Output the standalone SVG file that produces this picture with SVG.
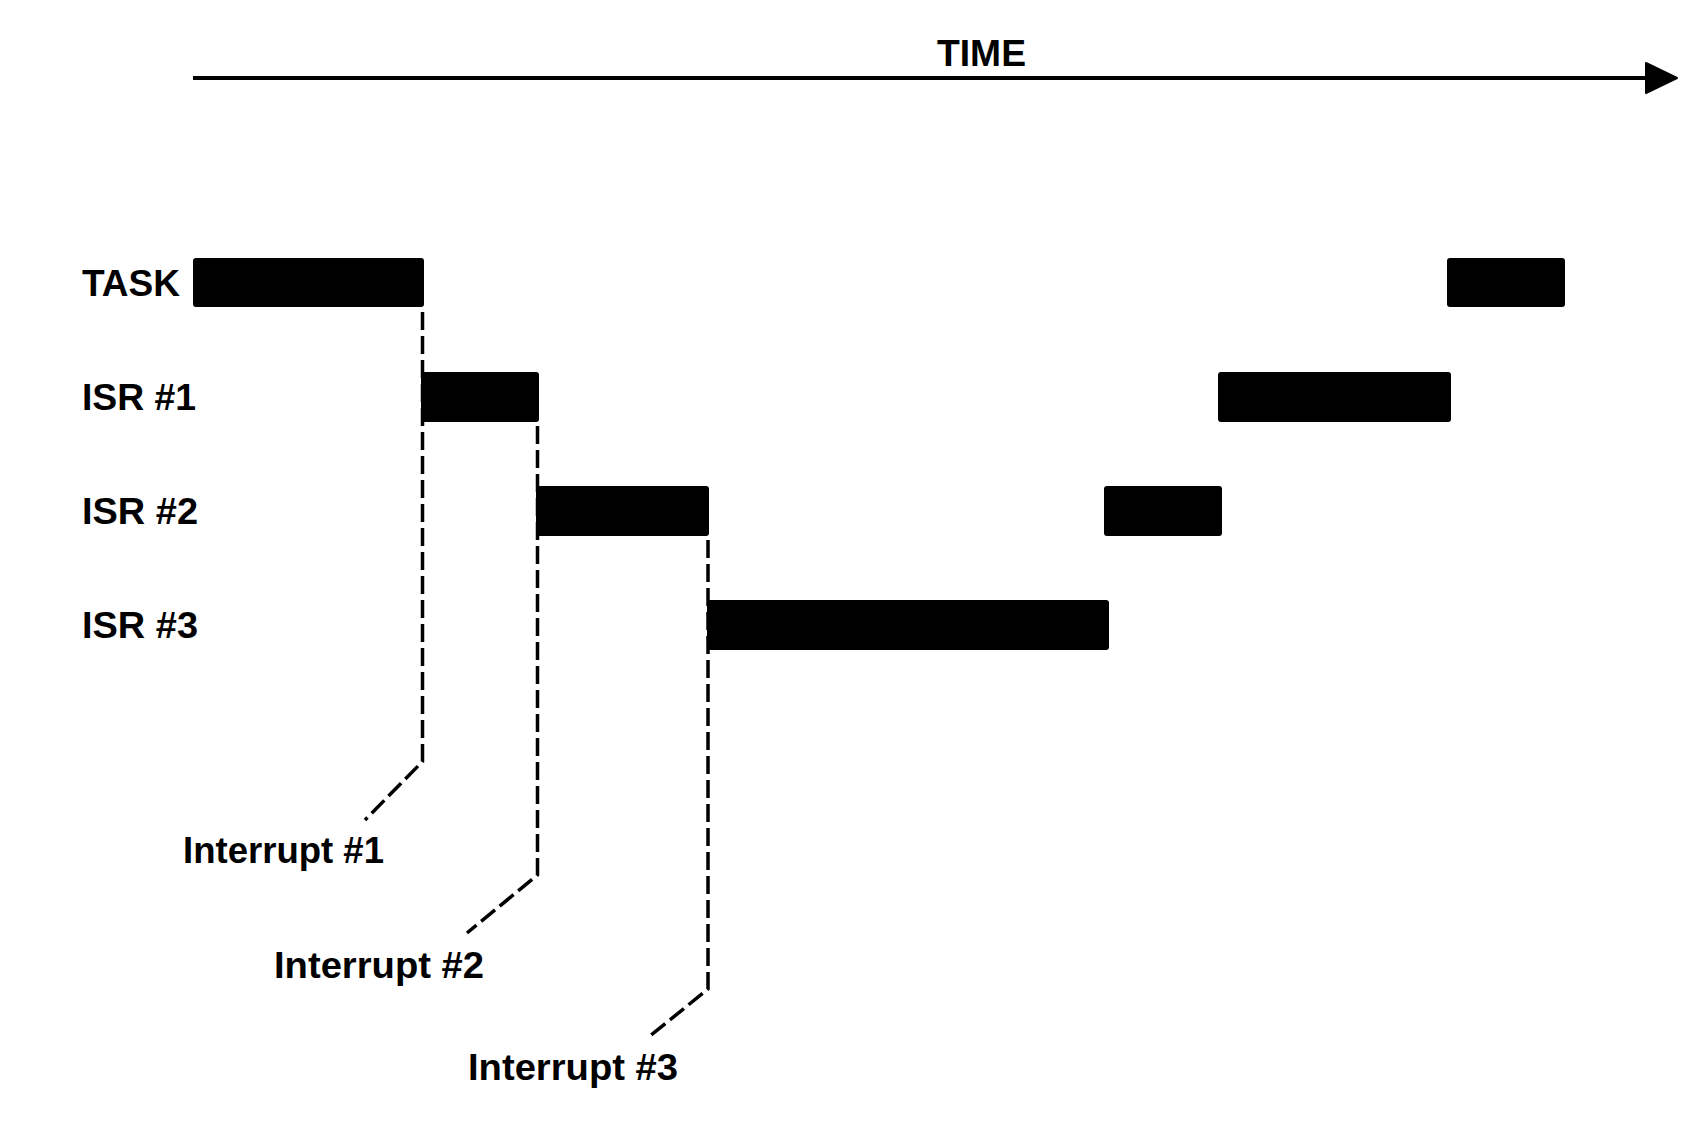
<svg xmlns="http://www.w3.org/2000/svg" width="1706" height="1122" viewBox="0 0 1706 1122">
<style>
text{font-family:"Liberation Sans",Arial,Helvetica,sans-serif;font-weight:bold;font-size:36px;fill:#000}
.bar{fill:#000}
.dash{fill:none;stroke:#000;stroke-width:3.5;stroke-dasharray:18 6}
.axis{fill:none;stroke:#000;stroke-width:4}
</style>
<rect width="1706" height="1122" fill="#fff"/>
<g id="time-axis">
<line class="axis" x1="193" y1="78" x2="1650" y2="78"/>
<polygon points="1646,63 1677,78 1646,93" fill="#000" stroke="#000" stroke-width="2" stroke-linejoin="round"/>
<text x="937" y="66" textLength="89" lengthAdjust="spacingAndGlyphs">TIME</text>
</g>
<g id="connectors">
<path class="dash" d="M422.5 312 V761.5 L365 820"/>
<path class="dash" d="M537.5 426 V875 L467 933"/>
<path class="dash" d="M708 540 V989 L650 1036"/>
</g>
<g id="row-task">
<text x="82" y="296" textLength="98" lengthAdjust="spacingAndGlyphs">TASK</text>
<rect class="bar" x="193" y="258" width="231" height="49" rx="3"/>
<rect class="bar" x="1447" y="258" width="118" height="49" rx="3"/>
</g>
<g id="row-isr1">
<text x="82" y="410" textLength="114" lengthAdjust="spacingAndGlyphs">ISR #1</text>
<rect class="bar" x="421" y="372" width="118" height="50" rx="3"/>
<rect class="bar" x="1218" y="372" width="233" height="50" rx="3"/>
</g>
<g id="row-isr2">
<text x="82" y="524" textLength="116" lengthAdjust="spacingAndGlyphs">ISR #2</text>
<rect class="bar" x="536" y="486" width="173" height="50" rx="3"/>
<rect class="bar" x="1104" y="486" width="118" height="50" rx="3"/>
</g>
<g id="row-isr3">
<text x="82" y="638" textLength="116" lengthAdjust="spacingAndGlyphs">ISR #3</text>
<rect class="bar" x="707" y="600" width="402" height="50" rx="3"/>
</g>
<g id="interrupt-1"><text x="183" y="863" textLength="201" lengthAdjust="spacingAndGlyphs">Interrupt #1</text></g>
<g id="interrupt-2"><text x="274" y="978" textLength="210" lengthAdjust="spacingAndGlyphs">Interrupt #2</text></g>
<g id="interrupt-3"><text x="468" y="1080" textLength="210" lengthAdjust="spacingAndGlyphs">Interrupt #3</text></g>
</svg>
